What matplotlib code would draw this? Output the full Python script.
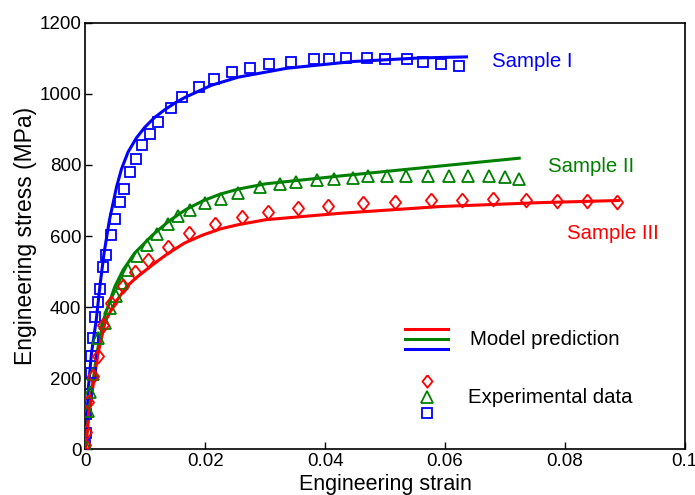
import matplotlib
matplotlib.use("Agg")
import matplotlib.pyplot as plt

plt.rcParams["font.family"] = ["Liberation Sans", "DejaVu Sans"]

BLUE = "#0000ff"
GREEN = "#008000"
RED = "#ff0000"

# ---- model prediction curves ----------------------------------------------
strain_fit_1 = [0, 0.0005, 0.001, 0.0018, 0.0024, 0.0031, 0.004, 0.0052, 0.006,
                0.0071, 0.0085, 0.0099, 0.0115, 0.0132, 0.015, 0.0166, 0.021,
                0.0255, 0.0336, 0.0447, 0.0558, 0.0636]
stress_fit_1 = [0, 176, 270, 364, 458, 552, 645, 739, 788,
                836, 876, 906, 933, 955, 975, 990, 1024,
                1047, 1072, 1091, 1101, 1104]

strain_fit_2 = [0, 0.0006, 0.0019, 0.003, 0.0049, 0.0063, 0.0082, 0.0112, 0.014,
                0.0168, 0.0196, 0.0225, 0.0255, 0.0301, 0.0425, 0.0592, 0.0724]
stress_fit_2 = [0, 111, 270, 364, 458, 505, 552, 603, 643,
                675, 699, 718, 732, 747, 769, 797, 819]

strain_fit_3 = [0, 0.0006, 0.0021, 0.0033, 0.0049, 0.0069, 0.0084, 0.0112, 0.0136,
                0.0165, 0.0196, 0.0225, 0.0255, 0.0301, 0.0425, 0.0592, 0.0759, 0.089]
stress_fit_3 = [0, 105, 270, 360, 411, 458, 482, 519, 549,
                580, 603, 620, 632, 646, 664, 683, 694, 700]

# ---- experimental points --------------------------------------------------
strain_exp_1 = [0, 0.0001, 0.0001, 0.0003, 0.0009, 0.001, 0.0013, 0.0016, 0.0021,
                0.0025, 0.003, 0.0035, 0.0043, 0.0049, 0.0057, 0.0065, 0.0074,
                0.0084, 0.0095, 0.0107, 0.0121, 0.0143, 0.0161, 0.0189, 0.0215,
                0.0245, 0.0274, 0.0307, 0.0343, 0.0381, 0.0407, 0.0435, 0.047,
                0.05, 0.0536, 0.0563, 0.0593, 0.0624]
stress_exp_1 = [12, 45, 99, 156, 215, 262, 312, 373, 415,
                450, 514, 547, 603, 648, 697, 733, 779,
                817, 856, 886, 920, 961, 990, 1018, 1042,
                1061, 1072, 1084, 1089, 1098, 1098, 1101, 1101,
                1098, 1098, 1089, 1085, 1077]

strain_exp_2 = [0, 0.0005, 0.0008, 0.0012, 0.0021, 0.0032, 0.0041, 0.0051, 0.0061,
                0.0071, 0.0086, 0.0102, 0.012, 0.0137, 0.0155, 0.0174, 0.02,
                0.0227, 0.0254, 0.0292, 0.0324, 0.0351, 0.0386, 0.0415, 0.0447,
                0.0472, 0.0503, 0.0535, 0.0571, 0.0606, 0.0639, 0.0674, 0.07, 0.0724]
stress_exp_2 = [12, 108, 160, 212, 312, 355, 397, 432, 468,
                505, 545, 575, 606, 635, 655, 674, 692,
                705, 722, 737, 746, 752, 758, 760, 763,
                768, 769, 769, 769, 769, 768, 768, 766, 761]

strain_exp_3 = [0, 0.0001, 0.0005, 0.0012, 0.0021, 0.003, 0.0043, 0.0062, 0.0083,
                0.0105, 0.0137, 0.0172, 0.0217, 0.0262, 0.0304, 0.0355, 0.0405,
                0.0464, 0.0517, 0.0577, 0.0628, 0.068, 0.0736, 0.0787, 0.0837, 0.0887]
stress_exp_3 = [12, 50, 134, 206, 262, 350, 413, 459, 500,
                534, 570, 608, 634, 653, 667, 680, 685,
                692, 697, 700, 702, 703, 702, 699, 699, 697]

x_ticks = [0, 0.02, 0.04, 0.06, 0.08, 0.1]
x_tick_labels = ["0", "0.02", "0.04", "0.06", "0.08", "0.1"]
y_ticks = [0, 200, 400, 600, 800, 1000, 1200]

DIAMOND = [(0, 1), (0.8, 0), (0, -1), (-0.8, 0), (0, 1)]

fig = plt.figure(figsize=(6.95, 4.95), dpi=100)
ax = fig.add_axes([0.123, 0.0923, 0.862, 0.8617])

lw = 2.2
ax.plot(strain_fit_1, stress_fit_1, color=BLUE, lw=lw, zorder=3)
ax.plot(strain_fit_2, stress_fit_2, color=GREEN, lw=lw, zorder=3)
ax.plot(strain_fit_3, stress_fit_3, color=RED, lw=lw, zorder=3)

mk = dict(ls="none", mfc="none", mew=1.3, zorder=4)
ax.plot(strain_exp_1, stress_exp_1, marker="s", ms=7.5, mec=BLUE, **mk)
ax.plot(strain_exp_2, stress_exp_2, marker="^", ms=8.5, mec=GREEN, **mk)
ax.plot(strain_exp_3, stress_exp_3, marker=DIAMOND, ms=10, mec=RED, **mk)

# sample labels
fs = 14.7
ax.text(0.0679, 1090, "Sample I", color=BLUE, fontsize=fs, va="center")
ax.text(0.0772, 797, "Sample II", color=GREEN, fontsize=fs, va="center")
ax.text(0.0804, 606, "Sample III", color=RED, fontsize=fs, va="center")

# hand-drawn legend
tr = ax.transAxes
for y, c in [(0.281, RED), (0.2586, GREEN), (0.236, BLUE)]:
    ax.plot([0.533, 0.605], [y, y], color=c, lw=lw, transform=tr, clip_on=False)
ax.text(0.642, 0.258, "Model prediction", fontsize=fs, va="center", transform=tr)
for y, m, s, c in [(0.161, DIAMOND, 9, RED), (0.122, "^", 8, GREEN), (0.084, "s", 7, BLUE)]:
    ax.plot([0.570], [y], marker=m, ms=s, mec=c, transform=tr, **mk)
ax.text(0.6386, 0.1226, "Experimental data", fontsize=fs, va="center", transform=tr)

ax.set_xlim(0, 0.1)
ax.set_ylim(0, 1200)
ax.set_xticks(x_ticks)
ax.set_xticklabels(x_tick_labels)
ax.set_yticks(y_ticks)
ax.tick_params(direction="in", length=5, width=1, labelsize=13.5, pad=3,
               top=False, right=False)
for s in ax.spines.values():
    s.set_linewidth(1.2)

ax.set_xlabel("Engineering strain", fontsize=15.5, labelpad=2.5)
ax.set_ylabel("Engineering stress (MPa)", fontsize=16.5, labelpad=2)

fig.savefig("out.png", dpi=100)
